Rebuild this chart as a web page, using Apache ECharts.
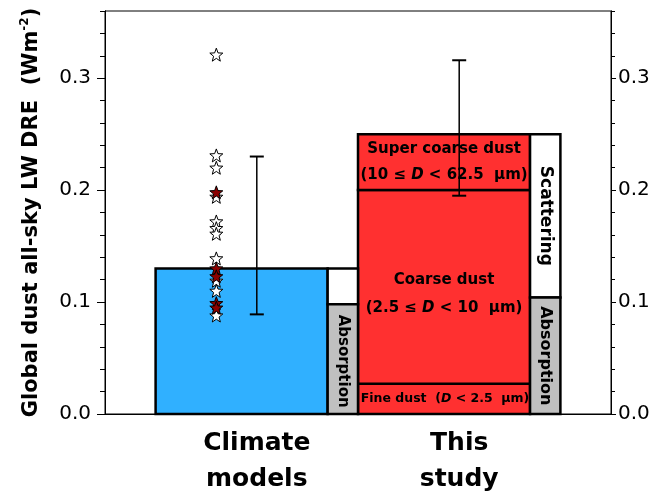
<!DOCTYPE html>
<html>
<head>
<meta charset="utf-8">
<script src="https://cdn.jsdelivr.net/npm/echarts@6/dist/echarts.min.js"></script>
<style>
  html, body { margin: 0; padding: 0; background: #fff; }
  #chart { width: 672px; height: 497px; }
</style>
</head>
<body>
<div id="chart"></div>
<script>
// groups along a hidden value x axis (0..10)
const categories = ["Climate\nmodels", "This\nstudy"];
const groupX = [3, 7];

// total LW DRE and the absorption part (W m-2)
const barTotals = [0.13, 0.25];
const absorptionTop = [0.098, 0.104];

// this study, split by dust size
const sizeBinTops = [0.027, 0.2, 0.25];
const sizeBinLabels = [
  "Fine dust  ({i|D} < 2.5  μm)",
  "Coarse dust\n(2.5 ≤ {i|D} < 10  μm)",
  "Super coarse dust\n(10 ≤ {i|D} < 62.5  μm)"
];

// error bars
const errLow = [0.089, 0.195];
const errHigh = [0.23, 0.316];

// individual climate models (stars); 1 = dark red star
const starValues = [0.321, 0.231, 0.22, 0.198, 0.194, 0.172, 0.166, 0.161, 0.139, 0.13, 0.123, 0.119, 0.11, 0.099, 0.095, 0.088];
const starRed = [0, 0, 0, 1, 0, 0, 0, 0, 0, 1, 1, 0, 0, 1, 1, 0];

const yTicks = [0, 0.1, 0.2, 0.3];

const FONT = "DejaVu Sans";
const BLUE = "#30b0ff";
const RED = "#ff3030";
const GRAY = "#c0c0c0";
const DARKRED = "#8b0000";
const STAR_DX = -0.8;

function starPath() {
  let d = "";
  for (let k = 0; k < 10; k++) {
    const r = k % 2 === 0 ? 10 : 4.2;
    const a = -Math.PI / 2 + k * Math.PI / 5;
    d += (k === 0 ? "M" : "L") + (r * Math.cos(a)).toFixed(2) + " " + (r * Math.sin(a)).toFixed(2) + " ";
  }
  return "path://" + d + "Z";
}

function box(api, x0, x1, y0, y1) {
  const p0 = api.coord([x0, y1]);
  const p1 = api.coord([x1, y0]);
  return { x: p0[0], y: p0[1], width: p1[0] - p0[0], height: p1[1] - p0[1] };
}

const chart = echarts.init(document.getElementById("chart"));

const richIt = (size) => ({
  i: { fontFamily: FONT, fontWeight: "bold", fontStyle: "italic", fontSize: size, fill: "#000" }
});

const valueAxis = (pos, major) => ({
  type: "value",
  position: pos,
  min: 0,
  max: 0.36,
  interval: major ? 0.1 : 0.02,
  axisLine: { show: true, lineStyle: { color: "#000", width: 1 } },
  axisTick: {
    show: true,
    length: major ? (pos === "left" ? 8 : 5) : (pos === "left" ? 5 : 4),
    customValues: major ? yTicks : undefined,
    lineStyle: { color: "#000", width: 1 }
  },
  axisLabel: {
    show: major,
    customValues: yTicks,
    margin: pos === "left" ? 14 : 7,
    formatter: (v) => v.toFixed(1),
    fontFamily: FONT,
    fontSize: 20,
    color: "#000"
  },
  splitLine: { show: false }
});

const leftMajor = valueAxis("left", true);
leftMajor.name = "{t|Global dust all-sky LW DRE  (Wm}{s|-2}{t|)}";
leftMajor.nameLocation = "middle";
leftMajor.nameGap = 61;
leftMajor.nameTextStyle = {
  rich: {
    t: { fontFamily: FONT, fontWeight: "bold", fontSize: 21, color: "#000", lineHeight: 25 },
    s: { fontFamily: FONT, fontWeight: "bold", fontSize: 12, color: "#000", lineHeight: 25, verticalAlign: "top" }
  }
};

const option = {
  animation: false,
  backgroundColor: "#fff",
  grid: { left: 105, right: 61, top: 11, bottom: 83, show: true, borderColor: "#000", borderWidth: 1, backgroundColor: "transparent" },
  xAxis: {
    type: "value",
    min: 0,
    max: 10,
    axisLine: { show: true, lineStyle: { color: "#000", width: 1 } },
    axisTick: { show: false },
    splitLine: { show: false },
    axisLabel: {
      customValues: groupX,
      formatter: (v) => categories[groupX.indexOf(v)] || "",
      fontFamily: FONT,
      fontWeight: "bold",
      fontSize: 25,
      lineHeight: 36,
      color: "#000",
      margin: 11
    }
  },
  yAxis: [leftMajor, valueAxis("left", false), valueAxis("right", true), valueAxis("right", false)],
  series: [
    {
      // climate models bar
      type: "custom",
      z: 2,
      data: [[0, barTotals[0]]],
      renderItem: (params, api) => {
        const cx = groupX[api.value(0)];
        return {
          type: "rect",
          shape: box(api, cx - 2, cx + 1.4, 0, api.value(1)),
          style: { fill: BLUE, stroke: "#000", lineWidth: 2.5 }
        };
      }
    },
    {
      // this study, stacked by size bin
      type: "custom",
      z: 2,
      data: sizeBinTops.map((top, k) => [1, k === 0 ? 0 : sizeBinTops[k - 1], top, k]),
      renderItem: (params, api) => {
        const cx = groupX[api.value(0)];
        const lo = api.value(1), hi = api.value(2), k = api.value(3);
        const r = box(api, cx - 2, cx + 1.4, lo, hi);
        const size = k === 0 ? 12.5 : 15;
        const shift = k === 1 ? 7 : 0;
        return {
          type: "group",
          children: [
            { type: "rect", shape: r, style: { fill: RED, stroke: "#000", lineWidth: 2.5 } },
            {
              type: "text",
              x: r.x + r.width / 2 + (k === 0 ? 1 : 0),
              y: r.y + r.height / 2 + shift,
              style: {
                text: sizeBinLabels[k],
                align: "center",
                verticalAlign: "middle",
                fontFamily: FONT,
                fontWeight: "bold",
                fontSize: size,
                lineHeight: k === 1 ? 28 : 26,
                fill: "#000",
                rich: richIt(size)
              }
            }
          ]
        };
      }
    },
    {
      // absorption / scattering columns
      type: "custom",
      z: 3,
      data: groupX.map((x, i) => [i, absorptionTop[i], barTotals[i]]),
      renderItem: (params, api) => {
        const i = api.value(0);
        const cx = groupX[i];
        const ab = api.value(1), tot = api.value(2);
        const g = box(api, cx + 1.4, cx + 2, 0, ab);
        const w = box(api, cx + 1.4, cx + 2, ab, tot);
        const children = [
          { type: "rect", shape: w, style: { fill: "#fff", stroke: "#000", lineWidth: 2.5 } },
          { type: "rect", shape: g, style: { fill: GRAY, stroke: "#000", lineWidth: 2.5 } },
          {
            type: "text",
            x: g.x + g.width / 2,
            y: g.y + g.height / 2 + (i === 0 ? 2 : 0),
            rotation: -Math.PI / 2,
            style: { text: "Absorption", align: "center", verticalAlign: "middle", fontFamily: FONT, fontWeight: "bold", fontSize: i === 0 ? 15 : 16, fill: "#000" }
          }
        ];
        if (i === 1) {
          children.push({
            type: "text",
            x: w.x + w.width / 2,
            y: w.y + w.height / 2,
            rotation: -Math.PI / 2,
            style: { text: "Scattering", align: "center", verticalAlign: "middle", fontFamily: FONT, fontWeight: "bold", fontSize: 17, fill: "#000" }
          });
        }
        return { type: "group", children: children };
      }
    },
    {
      // error bars
      type: "custom",
      z: 5,
      data: groupX.map((x, i) => [x, errLow[i], errHigh[i]]),
      renderItem: (params, api) => {
        const lo = api.coord([api.value(0), api.value(1)]);
        const hi = api.coord([api.value(0), api.value(2)]);
        const cap = 7;
        return {
          type: "group",
          children: [
            { type: "line", shape: { x1: lo[0], y1: lo[1], x2: hi[0], y2: hi[1] }, style: { stroke: "#000", lineWidth: 1.5 } },
            { type: "line", shape: { x1: lo[0] - cap, y1: lo[1], x2: lo[0] + cap, y2: lo[1] }, style: { stroke: "#000", lineWidth: 2 } },
            { type: "line", shape: { x1: hi[0] - cap, y1: hi[1], x2: hi[0] + cap, y2: hi[1] }, style: { stroke: "#000", lineWidth: 2 } }
          ]
        };
      }
    },
    {
      type: "scatter",
      z: 6,
      symbol: starPath(),
      symbolSize: 13,
      itemStyle: { color: "#fff", borderColor: "#000", borderWidth: 1, opacity: 1 },
      data: starValues.filter((v, k) => !starRed[k]).map((v) => [groupX[0] + STAR_DX, v])
    },
    {
      type: "scatter",
      z: 7,
      symbol: starPath(),
      symbolSize: 13,
      itemStyle: { color: DARKRED, borderColor: "#000", borderWidth: 1, opacity: 1 },
      data: starValues.filter((v, k) => starRed[k]).map((v) => [groupX[0] + STAR_DX, v])
    }
  ]
};

chart.setOption(option);
</script>
</body>
</html>
